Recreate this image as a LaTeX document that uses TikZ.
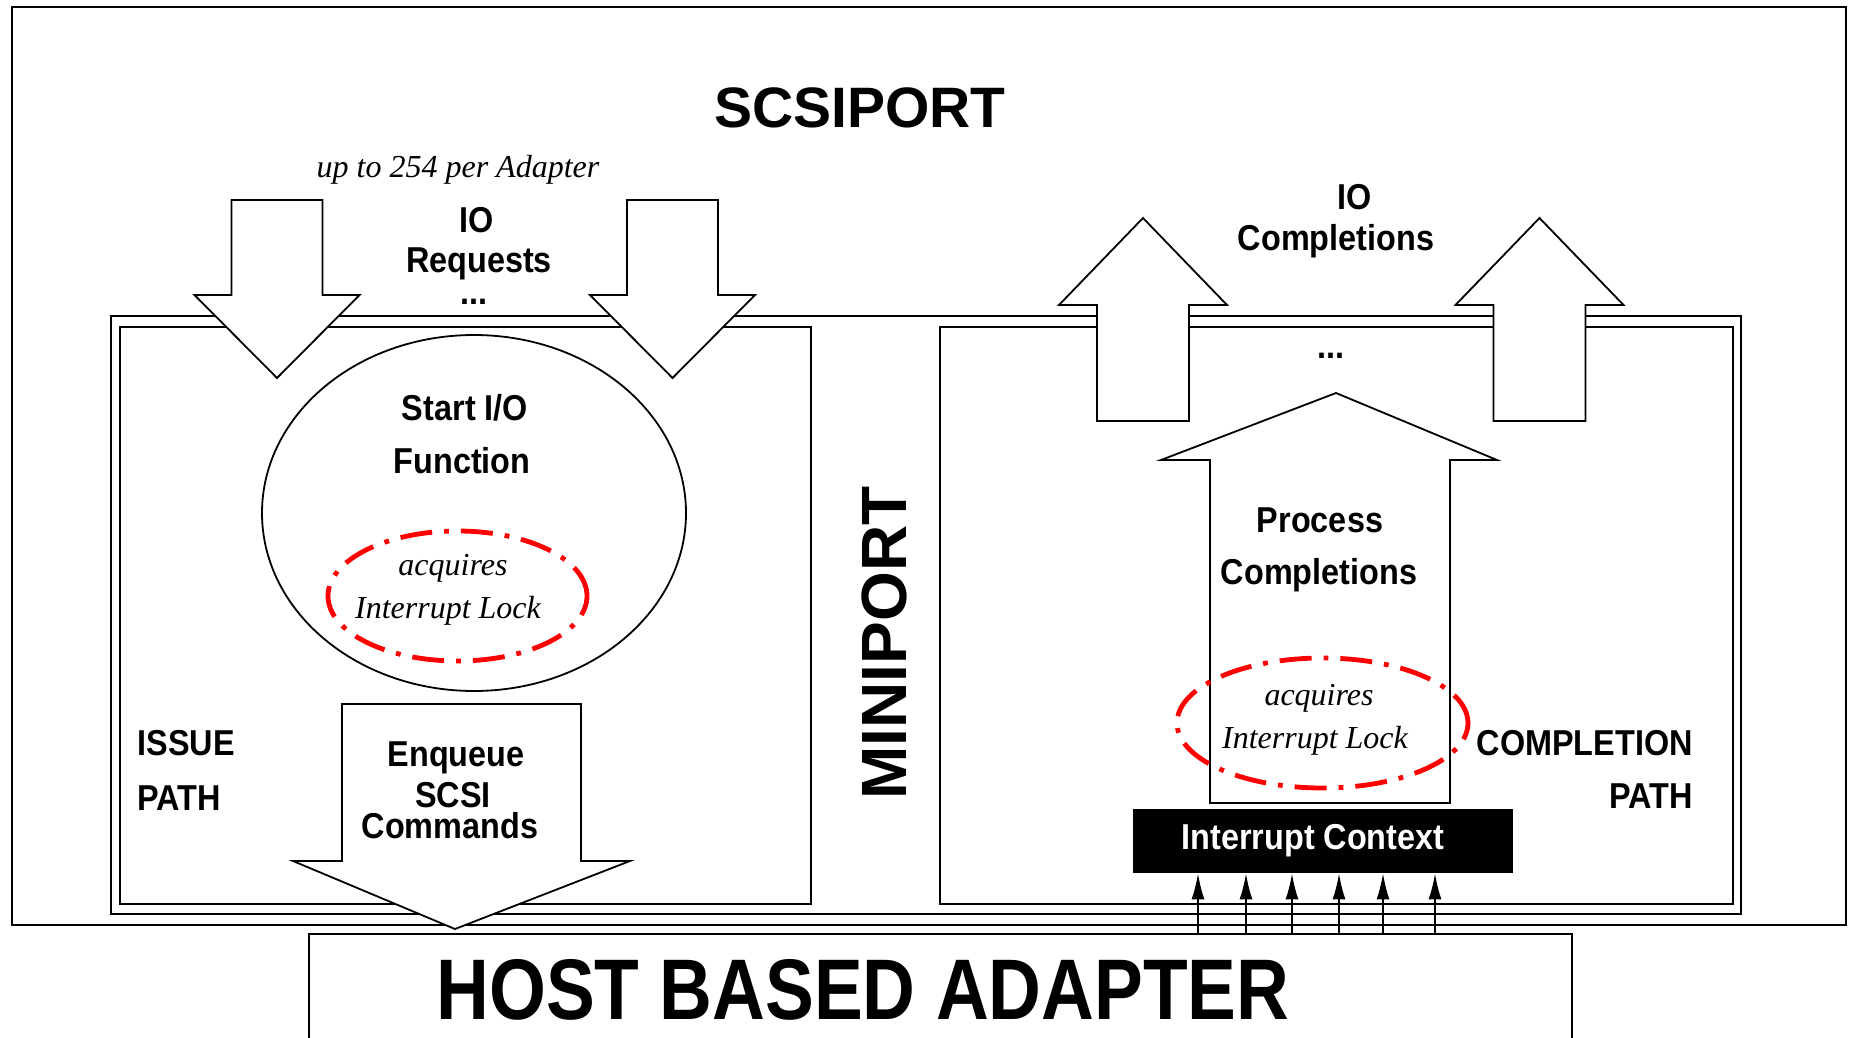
\documentclass[tikz,border=0pt]{standalone}
\usepackage{fontspec}
\setmainfont{Liberation Sans}
\newfontfamily\lblfont{Liberation Sans}[FakeStretch=0.9]
\newfontfamily\hbafont{Liberation Sans}[FakeStretch=0.85]
\newfontfamily\serifit{Liberation Serif}
\usetikzlibrary{arrows.meta,positioning,calc,shapes.geometric}
\definecolor{LockRed}{RGB}{255,0,0}

\begin{document}
\begin{tikzpicture}[x=0.5pt, y=-0.5pt,
    frame/.style={draw=black, line width=0.9pt},
    fatarrow/.style={draw=black, fill=white, line width=0.9pt, line join=miter},
    heading/.style={font=\bfseries\fontsize{28.5}{32}\selectfont, anchor=base, inner sep=0pt},
    lbl/.style={font=\lblfont\bfseries\fontsize{18}{20}\selectfont, anchor=base, inner sep=0pt},
    itlbl/.style={font=\serifit\itshape\fontsize{16}{18}\selectfont, anchor=base, inner sep=0pt},
    lock/.style={draw=LockRed, ellipse, line width=2.4pt, inner sep=0pt,
      dash pattern=on 16pt off 6pt on 2.4pt off 6pt},
    irq/.style={-{Latex[length=13pt, width=6.5pt]}, line width=0.9pt}
  ]
    \useasboundingbox (0,0) rectangle (1849,1038);
    % frames
    \draw[frame] (12,7) rectangle (1846,925);
    \draw[frame] (111,316) rectangle (1741,914);
    \draw[frame] (120,327) rectangle (811,904);
    \draw[frame] (940,327) rectangle (1733,904);
    \draw[frame] (309,1038) -- (309,934) -- (1572,934) -- (1572,1038);
    % io requests / completions
    \foreach \cx in {277,672.5}
      \draw[fatarrow] (\cx-45.5,200) -- (\cx+45.5,200) -- (\cx+45.5,295) -- (\cx+82.5,295)
        -- (\cx,378) -- (\cx-82.5,295) -- (\cx-45.5,295) -- cycle;
    \foreach \cx in {1143,1539.5}
      \draw[fatarrow] (\cx-46,421) -- (\cx-46,305) -- (\cx-84,305) -- (\cx,218)
        -- (\cx+84,305) -- (\cx+46,305) -- (\cx+46,421) -- cycle;
    \draw[fatarrow] (342,704) -- (581,704) -- (581,861) -- (630,861) -- (455,929)
      -- (293,861) -- (342,861) -- cycle;
    \draw[fatarrow] (1210,803) -- (1210,460) -- (1161,460) -- (1336,393) -- (1497,460)
      -- (1450,460) -- (1450,803) -- cycle;
    \node[draw, ellipse, line width=0.9pt, inner sep=0pt,
      minimum width=212pt, minimum height=178pt] (startio) at (474,513) {};
    \node[lock, minimum width=129.5pt, minimum height=65pt] (lockissue) at (457.5,596) {};
    \node[lock, minimum width=145.5pt, minimum height=65pt] (lockdone) at (1322.5,723) {};
    % texts
    \node[heading] (scsiport) at (860,128) {SCSIPORT};
    \node[itlbl] (peradapter) at (458,177) {up to 254 per Adapter};
    \node[lbl] (ioreq) at (477,233) {IO};
    \node[lbl, text depth=0pt] (ioreq2) at (479,272) {Requests};
    \node[lbl] (reqdots) at (474,304) {...};
    \node[lbl] (iodone) at (1355,210) {IO};
    \node[lbl] (iodone2) at (1336,250) {Completions};
    \node[lbl] (donedots) at (1331,358) {...};
    \node[lbl] (startfn) at (465,420) {Start I/O};
    \node[lbl] (startfn2) at (462,473) {Function};
    \node[itlbl] (acqissue) at (453,575) {acquires};
    \node[itlbl] (acqissue2) at (448,618) {Interrupt Lock};
    \node[lbl, anchor=base west] (issue) at (137,755) {ISSUE};
    \node[lbl, anchor=base west] (issue2) at (137,810) {PATH};
    \node[lbl] (enq) at (456,766) {Enqueue};
    \node[lbl, text depth=0pt] (enq2) at (453,807) {SCSI};
    \node[lbl, text height=12pt] (enq3) at (450,838) {Commands};
    \node[font=\bfseries\fontsize{32}{36}\selectfont, rotate=90, inner sep=0pt] (miniport) at (884,643) {MINIPORT};
    \node[lbl] (proc) at (1320,532) {Process};
    \node[lbl] (proc2) at (1319,584) {Completions};
    \node[itlbl] (acqdone) at (1319,705) {acquires};
    \node[itlbl] (acqdone2) at (1315,748) {Interrupt Lock};
    \node[lbl, anchor=base east] (compl) at (1693,755) {COMPLETION};
    \node[lbl, anchor=base east] (compl2) at (1693,808) {PATH};
    \node[font=\lblfont\bfseries\fontsize{18}{20}\selectfont, fill=black, text=white, inner sep=0pt,
      minimum width=190pt, minimum height=32pt] (intctx) at (1323,841) {Interrupt Context\kern10pt};
    \node[font=\hbafont\bfseries\fontsize{43}{48}\selectfont, anchor=base, inner sep=0pt] (hba) at (863,1019) {HOST BASED ADAPTER};
    % interrupt lines
    \coordinate (hbatop) at (1323,934);
    \foreach \dx in {-62.5,-38.5,-15.5,8,30,56}
      \draw[irq] ([xshift=\dx pt]hbatop) -- ([xshift=\dx pt]intctx.south);
  \end{tikzpicture}
\end{document}
